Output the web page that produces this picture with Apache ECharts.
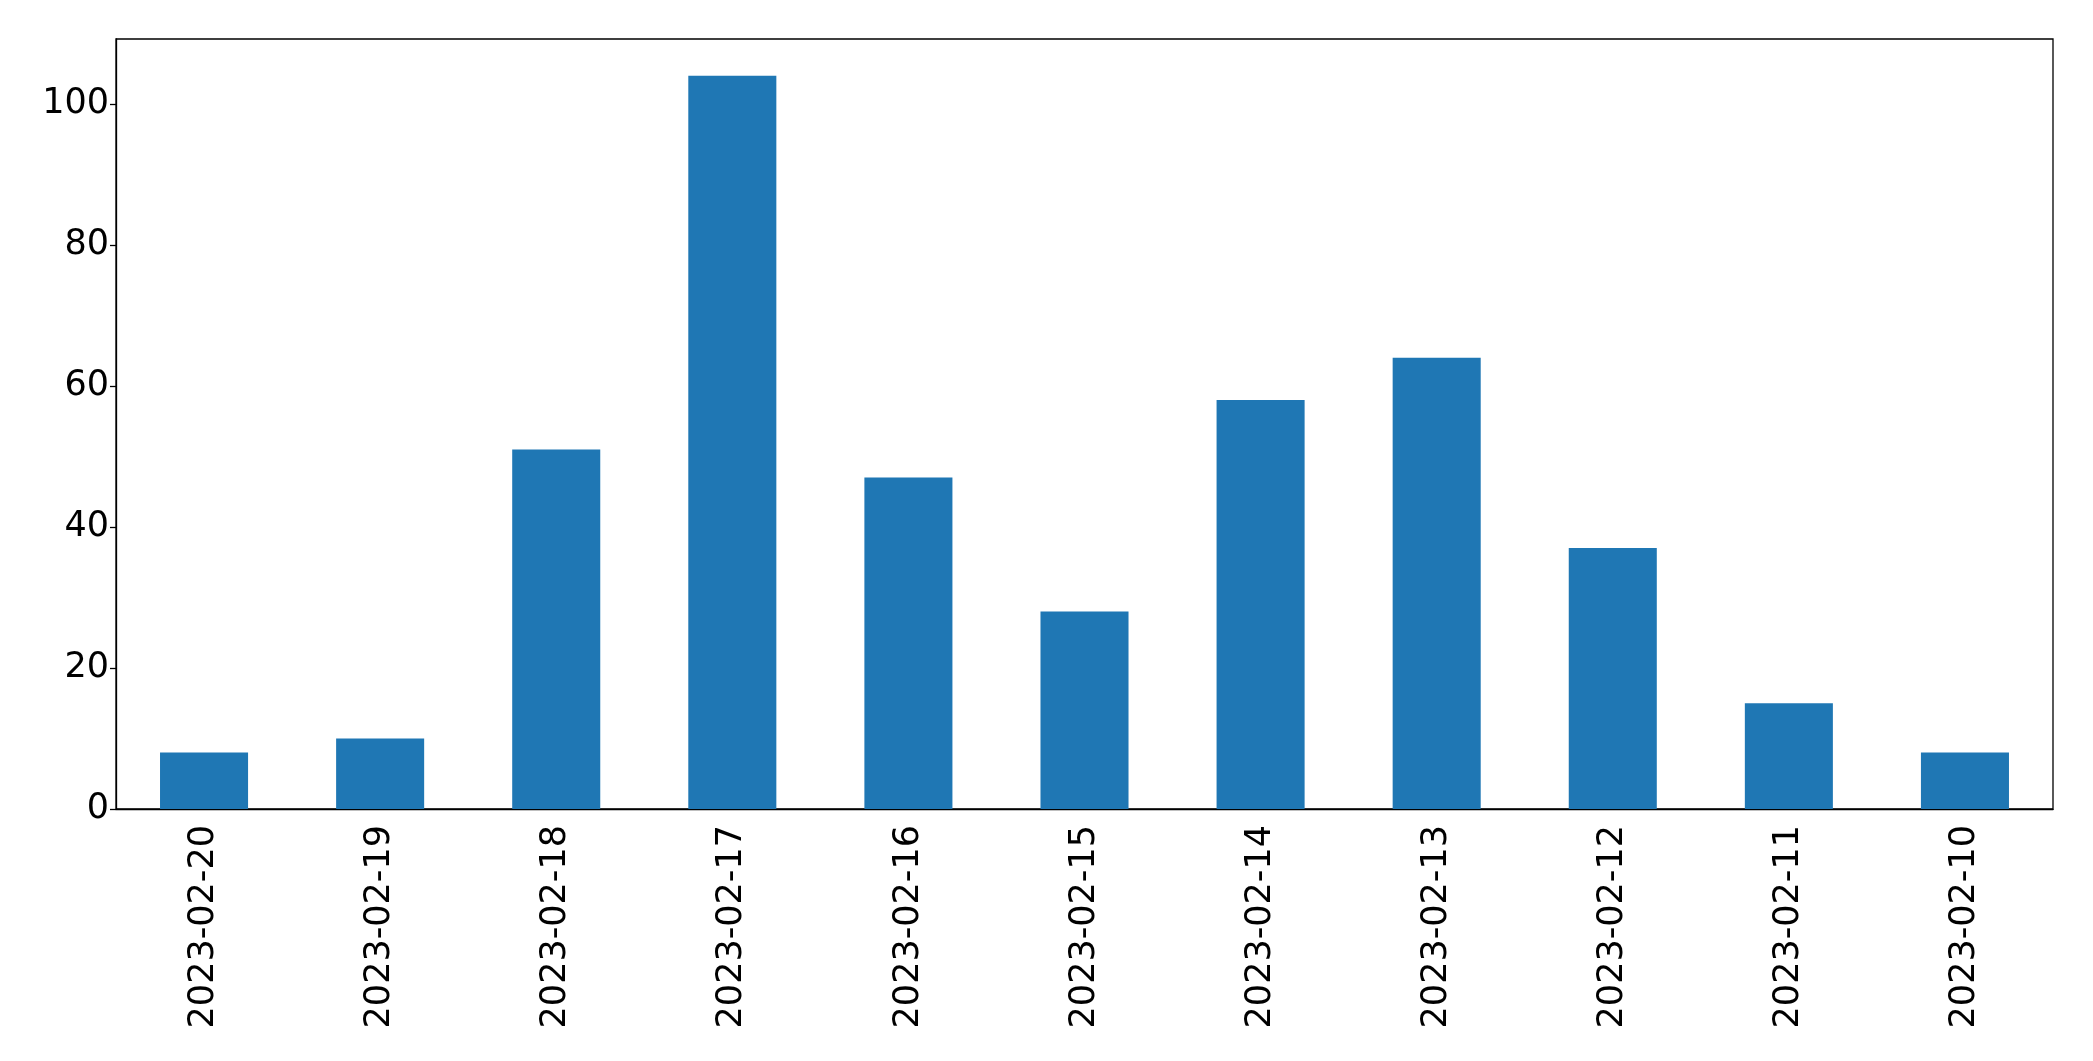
<!DOCTYPE html>
<html>
<head>
<meta charset="utf-8">
<script src="https://cdn.jsdelivr.net/npm/echarts@6/dist/echarts.min.js"></script>
<style>
html,body{margin:0;padding:0;background:#fff;}
#c{width:2093px;height:1061px;}
</style>
</head>
<body>
<div id="c"></div>
<script>
const categories = ["2023-02-20","2023-02-19","2023-02-18","2023-02-17","2023-02-16","2023-02-15","2023-02-14","2023-02-13","2023-02-12","2023-02-11","2023-02-10"];
const values = [8, 10, 51, 104, 47, 28, 58, 64, 37, 15, 8];
const yMax = 109.2;
const yInterval = 20;

const chart = echarts.init(document.getElementById('c'), null, {renderer: 'canvas'});
const font = 'DejaVu Sans';
chart.setOption({
  animation: false,
  backgroundColor: '#ffffff',
  grid: {
    left: 116, top: 39, right: 40, bottom: 252,
    show: true, borderColor: '#000', borderWidth: 1.3, backgroundColor: 'transparent'
  },
  xAxis: {
    type: 'category',
    data: categories,
    axisLine: {lineStyle: {color: '#000', width: 1.3}},
    axisTick: {alignWithLabel: true, length: 6, lineStyle: {color: '#000', width: 1.3}},
    axisLabel: {rotate: 90, color: '#000', fontFamily: font, fontSize: 35, margin: 16, interval: 0}
  },
  yAxis: {
    type: 'value',
    min: 0, max: yMax, interval: yInterval,
    splitLine: {show: false},
    axisLine: {show: true, lineStyle: {color: '#000', width: 1.3}},
    axisTick: {show: true, length: 6, lineStyle: {color: '#000', width: 1.3}},
    axisLabel: {color: '#000', fontFamily: font, fontSize: 35, margin: 7, showMaxLabel: false}
  },
  series: [{
    type: 'bar',
    data: values,
    barWidth: '50%',
    itemStyle: {color: '#1f77b4'}
  }]
});
</script>
</body>
</html>
